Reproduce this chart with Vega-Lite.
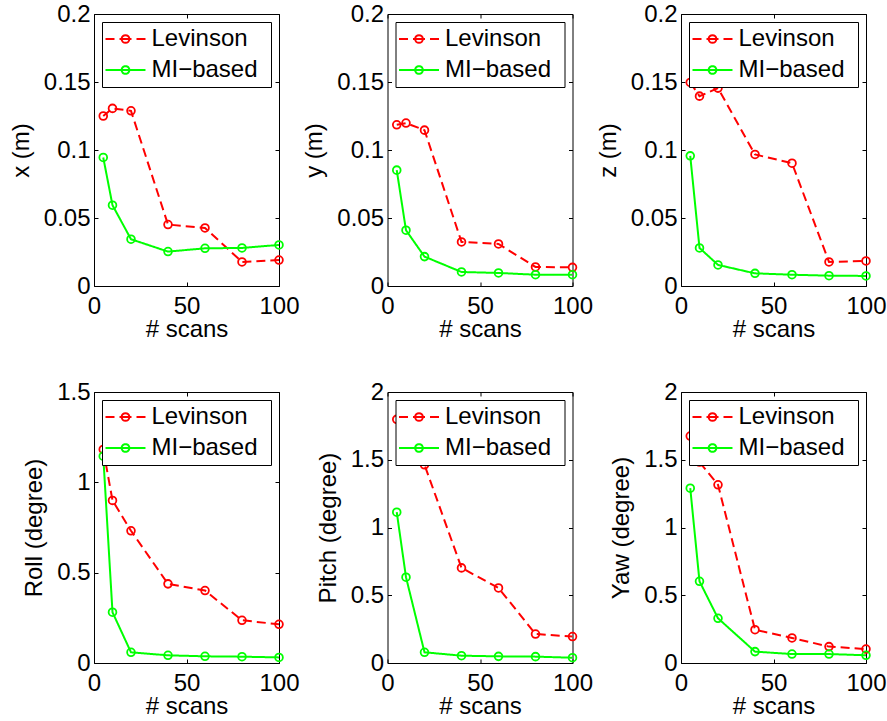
{
  "$schema": "https://vega.github.io/schema/vega-lite/v6.json",
  "background": "white",
  "padding": {"left": 8, "top": 1, "right": 5, "bottom": 5},
  "config": {
    "font": "Liberation Sans",
    "view": {"stroke": "black", "strokeWidth": 1},
    "axis": {"labelFontSize": 24, "titleFontSize": 24, "titleFontWeight": "normal", "labelColor": "black", "titleColor": "black", "tickColor": "black", "tickSize": -4, "tickWidth": 1, "domain": false, "grid": false, "labelFlush": false, "labelOverlap": false, "labelBound": false},
    "axisX": {"labelPadding": 12, "titlePadding": -1},
    "axisY": {"labelPadding": 8, "titlePadding": 10},
    "legend": {"orient": "top-right", "offset": 8, "padding": 5, "fillColor": "white", "strokeColor": "black", "labelFontSize": 24, "labelColor": "black", "symbolType": "M-2.18,0M-1.818,0H-0.364M-0.364,0H0.364M1.818,0H0.364M0.35,0A0.35,0.35 0 0 1 0,0.35M0,0.35A0.35,0.35 0 0 1 -0.35,0M-0.35,0A0.35,0.35 0 0 1 0,-0.35M0,-0.35A0.35,0.35 0 0 1 0.35,0M12.4,0", "symbolSize": 484, "symbolStrokeWidth": 2, "symbolOffset": 6.5, "labelOffset": 14, "rowPadding": 7, "symbolFillColor": "transparent"}
  },
  "datasets": {
    "err": [
      {"p": "x", "m": "Levinson", "n": 5, "v": 0.125}, {"p": "x", "m": "Levinson", "n": 10, "v": 0.1306}, {"p": "x", "m": "Levinson", "n": 20, "v": 0.1288}, {"p": "x", "m": "Levinson", "n": 40, "v": 0.0452}, {"p": "x", "m": "Levinson", "n": 60, "v": 0.0427}, {"p": "x", "m": "Levinson", "n": 80, "v": 0.0177}, {"p": "x", "m": "Levinson", "n": 100, "v": 0.0191},
      {"p": "x", "m": "MI−based", "n": 5, "v": 0.0945}, {"p": "x", "m": "MI−based", "n": 10, "v": 0.0594}, {"p": "x", "m": "MI−based", "n": 20, "v": 0.0344}, {"p": "x", "m": "MI−based", "n": 40, "v": 0.0253}, {"p": "x", "m": "MI−based", "n": 60, "v": 0.0277}, {"p": "x", "m": "MI−based", "n": 80, "v": 0.028}, {"p": "x", "m": "MI−based", "n": 100, "v": 0.0302},
      {"p": "y", "m": "Levinson", "n": 5, "v": 0.1185}, {"p": "y", "m": "Levinson", "n": 10, "v": 0.1198}, {"p": "y", "m": "Levinson", "n": 20, "v": 0.1146}, {"p": "y", "m": "Levinson", "n": 40, "v": 0.0324}, {"p": "y", "m": "Levinson", "n": 60, "v": 0.0309}, {"p": "y", "m": "Levinson", "n": 80, "v": 0.014}, {"p": "y", "m": "Levinson", "n": 100, "v": 0.0137},
      {"p": "y", "m": "MI−based", "n": 5, "v": 0.0852}, {"p": "y", "m": "MI−based", "n": 10, "v": 0.041}, {"p": "y", "m": "MI−based", "n": 20, "v": 0.0216}, {"p": "y", "m": "MI−based", "n": 40, "v": 0.0103}, {"p": "y", "m": "MI−based", "n": 60, "v": 0.0096}, {"p": "y", "m": "MI−based", "n": 80, "v": 0.0083}, {"p": "y", "m": "MI−based", "n": 100, "v": 0.0083},
      {"p": "z", "m": "Levinson", "n": 5, "v": 0.1497}, {"p": "z", "m": "Levinson", "n": 10, "v": 0.1396}, {"p": "z", "m": "Levinson", "n": 20, "v": 0.1455}, {"p": "z", "m": "Levinson", "n": 40, "v": 0.0967}, {"p": "z", "m": "Levinson", "n": 60, "v": 0.0903}, {"p": "z", "m": "Levinson", "n": 80, "v": 0.0177}, {"p": "z", "m": "Levinson", "n": 100, "v": 0.0184},
      {"p": "z", "m": "MI−based", "n": 5, "v": 0.0957}, {"p": "z", "m": "MI−based", "n": 10, "v": 0.028}, {"p": "z", "m": "MI−based", "n": 20, "v": 0.0155}, {"p": "z", "m": "MI−based", "n": 40, "v": 0.0093}, {"p": "z", "m": "MI−based", "n": 60, "v": 0.0083}, {"p": "z", "m": "MI−based", "n": 80, "v": 0.0076}, {"p": "z", "m": "MI−based", "n": 100, "v": 0.0074},
      {"p": "roll", "m": "Levinson", "n": 5, "v": 1.182}, {"p": "roll", "m": "Levinson", "n": 10, "v": 0.9}, {"p": "roll", "m": "Levinson", "n": 20, "v": 0.7316}, {"p": "roll", "m": "Levinson", "n": 40, "v": 0.438}, {"p": "roll", "m": "Levinson", "n": 60, "v": 0.401}, {"p": "roll", "m": "Levinson", "n": 80, "v": 0.2365}, {"p": "roll", "m": "Levinson", "n": 100, "v": 0.214},
      {"p": "roll", "m": "MI−based", "n": 5, "v": 1.145}, {"p": "roll", "m": "MI−based", "n": 10, "v": 0.281}, {"p": "roll", "m": "MI−based", "n": 20, "v": 0.059}, {"p": "roll", "m": "MI−based", "n": 40, "v": 0.0425}, {"p": "roll", "m": "MI−based", "n": 60, "v": 0.037}, {"p": "roll", "m": "MI−based", "n": 80, "v": 0.035}, {"p": "roll", "m": "MI−based", "n": 100, "v": 0.031},
      {"p": "pitch", "m": "Levinson", "n": 5, "v": 1.798}, {"p": "pitch", "m": "Levinson", "n": 10, "v": 1.62}, {"p": "pitch", "m": "Levinson", "n": 20, "v": 1.463}, {"p": "pitch", "m": "Levinson", "n": 40, "v": 0.702}, {"p": "pitch", "m": "Levinson", "n": 60, "v": 0.554}, {"p": "pitch", "m": "Levinson", "n": 80, "v": 0.214}, {"p": "pitch", "m": "Levinson", "n": 100, "v": 0.195},
      {"p": "pitch", "m": "MI−based", "n": 5, "v": 1.113}, {"p": "pitch", "m": "MI−based", "n": 10, "v": 0.633}, {"p": "pitch", "m": "MI−based", "n": 20, "v": 0.079}, {"p": "pitch", "m": "MI−based", "n": 40, "v": 0.054}, {"p": "pitch", "m": "MI−based", "n": 60, "v": 0.049}, {"p": "pitch", "m": "MI−based", "n": 80, "v": 0.047}, {"p": "pitch", "m": "MI−based", "n": 100, "v": 0.039},
      {"p": "yaw", "m": "Levinson", "n": 5, "v": 1.675}, {"p": "yaw", "m": "Levinson", "n": 10, "v": 1.483}, {"p": "yaw", "m": "Levinson", "n": 20, "v": 1.315}, {"p": "yaw", "m": "Levinson", "n": 40, "v": 0.246}, {"p": "yaw", "m": "Levinson", "n": 60, "v": 0.185}, {"p": "yaw", "m": "Levinson", "n": 80, "v": 0.121}, {"p": "yaw", "m": "Levinson", "n": 100, "v": 0.103},
      {"p": "yaw", "m": "MI−based", "n": 5, "v": 1.29}, {"p": "yaw", "m": "MI−based", "n": 10, "v": 0.603}, {"p": "yaw", "m": "MI−based", "n": 20, "v": 0.33}, {"p": "yaw", "m": "MI−based", "n": 40, "v": 0.084}, {"p": "yaw", "m": "MI−based", "n": 60, "v": 0.066}, {"p": "yaw", "m": "MI−based", "n": 80, "v": 0.066}, {"p": "yaw", "m": "MI−based", "n": 100, "v": 0.057}
    ]
  },
  "columns": 3,
  "spacing": {"row": 106, "column": 108.5},
  "bounds": "flush",
  "resolve": {"scale": {"color": "independent", "strokeDash": "independent"}, "legend": {"color": "independent", "strokeDash": "independent"}},
  "concat": [
    {
      "width": 185, "height": 272, "data": {"name": "err"}, "transform": [{"filter": "datum.p === 'x'"}],
      "layer": [
        {"mark": {"type": "line", "strokeWidth": 2}, "encoding": {
          "x": {"field": "n", "type": "quantitative", "scale": {"domain": [0, 100]}, "axis": {"orient": "bottom", "values": [0, 50, 100], "title": "# scans"}},
          "y": {"field": "v", "type": "quantitative", "scale": {"domain": [0, 0.2]}, "axis": {"orient": "left", "values": [0, 0.05, 0.1, 0.15, 0.2], "format": "~g", "title": "x (m)"}},
          "color": {"field": "m", "type": "nominal", "scale": {"domain": ["Levinson", "MI−based"], "range": ["#ff0000", "#00ff00"]}, "legend": {"title": null}},
          "strokeDash": {"field": "m", "type": "nominal", "scale": {"domain": ["Levinson", "MI−based"], "range": [[9, 5], [1, 0]]}, "legend": {"title": null}}}},
        {"mark": {"type": "point", "shape": "circle", "size": 60, "strokeWidth": 1.8, "filled": false, "opacity": 1}, "encoding": {
          "x": {"field": "n", "type": "quantitative", "scale": {"domain": [0, 100]}, "axis": null},
          "y": {"field": "v", "type": "quantitative", "scale": {"domain": [0, 0.2]}, "axis": null},
          "color": {"field": "m", "type": "nominal", "scale": {"domain": ["Levinson", "MI−based"], "range": ["#ff0000", "#00ff00"]}, "legend": {"title": null}}}},
        {"mark": {"type": "point", "opacity": 0}, "encoding": {
          "x": {"field": "n", "type": "quantitative", "scale": {"domain": [0, 100]}, "axis": {"orient": "top", "values": [0, 50, 100], "labels": false, "title": null}},
          "y": {"field": "v", "type": "quantitative", "scale": {"domain": [0, 0.2]}, "axis": {"orient": "right", "values": [0, 0.05, 0.1, 0.15, 0.2], "labels": false, "title": null}}}}
      ]
    },
    {
      "width": 185, "height": 272, "data": {"name": "err"}, "transform": [{"filter": "datum.p === 'y'"}],
      "layer": [
        {"mark": {"type": "line", "strokeWidth": 2}, "encoding": {
          "x": {"field": "n", "type": "quantitative", "scale": {"domain": [0, 100]}, "axis": {"orient": "bottom", "values": [0, 50, 100], "title": "# scans"}},
          "y": {"field": "v", "type": "quantitative", "scale": {"domain": [0, 0.2]}, "axis": {"orient": "left", "values": [0, 0.05, 0.1, 0.15, 0.2], "format": "~g", "title": "y (m)"}},
          "color": {"field": "m", "type": "nominal", "scale": {"domain": ["Levinson", "MI−based"], "range": ["#ff0000", "#00ff00"]}, "legend": {"title": null}},
          "strokeDash": {"field": "m", "type": "nominal", "scale": {"domain": ["Levinson", "MI−based"], "range": [[9, 5], [1, 0]]}, "legend": {"title": null}}}},
        {"mark": {"type": "point", "shape": "circle", "size": 60, "strokeWidth": 1.8, "filled": false, "opacity": 1}, "encoding": {
          "x": {"field": "n", "type": "quantitative", "scale": {"domain": [0, 100]}, "axis": null},
          "y": {"field": "v", "type": "quantitative", "scale": {"domain": [0, 0.2]}, "axis": null},
          "color": {"field": "m", "type": "nominal", "scale": {"domain": ["Levinson", "MI−based"], "range": ["#ff0000", "#00ff00"]}, "legend": {"title": null}}}},
        {"mark": {"type": "point", "opacity": 0}, "encoding": {
          "x": {"field": "n", "type": "quantitative", "scale": {"domain": [0, 100]}, "axis": {"orient": "top", "values": [0, 50, 100], "labels": false, "title": null}},
          "y": {"field": "v", "type": "quantitative", "scale": {"domain": [0, 0.2]}, "axis": {"orient": "right", "values": [0, 0.05, 0.1, 0.15, 0.2], "labels": false, "title": null}}}}
      ]
    },
    {
      "width": 185, "height": 272, "data": {"name": "err"}, "transform": [{"filter": "datum.p === 'z'"}],
      "layer": [
        {"mark": {"type": "line", "strokeWidth": 2}, "encoding": {
          "x": {"field": "n", "type": "quantitative", "scale": {"domain": [0, 100]}, "axis": {"orient": "bottom", "values": [0, 50, 100], "title": "# scans"}},
          "y": {"field": "v", "type": "quantitative", "scale": {"domain": [0, 0.2]}, "axis": {"orient": "left", "values": [0, 0.05, 0.1, 0.15, 0.2], "format": "~g", "title": "z (m)"}},
          "color": {"field": "m", "type": "nominal", "scale": {"domain": ["Levinson", "MI−based"], "range": ["#ff0000", "#00ff00"]}, "legend": {"title": null}},
          "strokeDash": {"field": "m", "type": "nominal", "scale": {"domain": ["Levinson", "MI−based"], "range": [[9, 5], [1, 0]]}, "legend": {"title": null}}}},
        {"mark": {"type": "point", "shape": "circle", "size": 60, "strokeWidth": 1.8, "filled": false, "opacity": 1}, "encoding": {
          "x": {"field": "n", "type": "quantitative", "scale": {"domain": [0, 100]}, "axis": null},
          "y": {"field": "v", "type": "quantitative", "scale": {"domain": [0, 0.2]}, "axis": null},
          "color": {"field": "m", "type": "nominal", "scale": {"domain": ["Levinson", "MI−based"], "range": ["#ff0000", "#00ff00"]}, "legend": {"title": null}}}},
        {"mark": {"type": "point", "opacity": 0}, "encoding": {
          "x": {"field": "n", "type": "quantitative", "scale": {"domain": [0, 100]}, "axis": {"orient": "top", "values": [0, 50, 100], "labels": false, "title": null}},
          "y": {"field": "v", "type": "quantitative", "scale": {"domain": [0, 0.2]}, "axis": {"orient": "right", "values": [0, 0.05, 0.1, 0.15, 0.2], "labels": false, "title": null}}}}
      ]
    },
    {
      "width": 185, "height": 271, "data": {"name": "err"}, "transform": [{"filter": "datum.p === 'roll'"}],
      "layer": [
        {"mark": {"type": "line", "strokeWidth": 2}, "encoding": {
          "x": {"field": "n", "type": "quantitative", "scale": {"domain": [0, 100]}, "axis": {"orient": "bottom", "values": [0, 50, 100], "title": "# scans"}},
          "y": {"field": "v", "type": "quantitative", "scale": {"domain": [0, 1.5]}, "axis": {"orient": "left", "values": [0, 0.5, 1, 1.5], "format": "~g", "title": "Roll (degree)"}},
          "color": {"field": "m", "type": "nominal", "scale": {"domain": ["Levinson", "MI−based"], "range": ["#ff0000", "#00ff00"]}, "legend": {"title": null}},
          "strokeDash": {"field": "m", "type": "nominal", "scale": {"domain": ["Levinson", "MI−based"], "range": [[9, 5], [1, 0]]}, "legend": {"title": null}}}},
        {"mark": {"type": "point", "shape": "circle", "size": 60, "strokeWidth": 1.8, "filled": false, "opacity": 1}, "encoding": {
          "x": {"field": "n", "type": "quantitative", "scale": {"domain": [0, 100]}, "axis": null},
          "y": {"field": "v", "type": "quantitative", "scale": {"domain": [0, 1.5]}, "axis": null},
          "color": {"field": "m", "type": "nominal", "scale": {"domain": ["Levinson", "MI−based"], "range": ["#ff0000", "#00ff00"]}, "legend": {"title": null}}}},
        {"mark": {"type": "point", "opacity": 0}, "encoding": {
          "x": {"field": "n", "type": "quantitative", "scale": {"domain": [0, 100]}, "axis": {"orient": "top", "values": [0, 50, 100], "labels": false, "title": null}},
          "y": {"field": "v", "type": "quantitative", "scale": {"domain": [0, 1.5]}, "axis": {"orient": "right", "values": [0, 0.5, 1, 1.5], "labels": false, "title": null}}}}
      ]
    },
    {
      "width": 185, "height": 271, "data": {"name": "err"}, "transform": [{"filter": "datum.p === 'pitch'"}],
      "layer": [
        {"mark": {"type": "line", "strokeWidth": 2}, "encoding": {
          "x": {"field": "n", "type": "quantitative", "scale": {"domain": [0, 100]}, "axis": {"orient": "bottom", "values": [0, 50, 100], "title": "# scans"}},
          "y": {"field": "v", "type": "quantitative", "scale": {"domain": [0, 2]}, "axis": {"orient": "left", "values": [0, 0.5, 1, 1.5, 2], "format": "~g", "title": "Pitch (degree)"}},
          "color": {"field": "m", "type": "nominal", "scale": {"domain": ["Levinson", "MI−based"], "range": ["#ff0000", "#00ff00"]}, "legend": {"title": null}},
          "strokeDash": {"field": "m", "type": "nominal", "scale": {"domain": ["Levinson", "MI−based"], "range": [[9, 5], [1, 0]]}, "legend": {"title": null}}}},
        {"mark": {"type": "point", "shape": "circle", "size": 60, "strokeWidth": 1.8, "filled": false, "opacity": 1}, "encoding": {
          "x": {"field": "n", "type": "quantitative", "scale": {"domain": [0, 100]}, "axis": null},
          "y": {"field": "v", "type": "quantitative", "scale": {"domain": [0, 2]}, "axis": null},
          "color": {"field": "m", "type": "nominal", "scale": {"domain": ["Levinson", "MI−based"], "range": ["#ff0000", "#00ff00"]}, "legend": {"title": null}}}},
        {"mark": {"type": "point", "opacity": 0}, "encoding": {
          "x": {"field": "n", "type": "quantitative", "scale": {"domain": [0, 100]}, "axis": {"orient": "top", "values": [0, 50, 100], "labels": false, "title": null}},
          "y": {"field": "v", "type": "quantitative", "scale": {"domain": [0, 2]}, "axis": {"orient": "right", "values": [0, 0.5, 1, 1.5, 2], "labels": false, "title": null}}}}
      ]
    },
    {
      "width": 185, "height": 271, "data": {"name": "err"}, "transform": [{"filter": "datum.p === 'yaw'"}],
      "layer": [
        {"mark": {"type": "line", "strokeWidth": 2}, "encoding": {
          "x": {"field": "n", "type": "quantitative", "scale": {"domain": [0, 100]}, "axis": {"orient": "bottom", "values": [0, 50, 100], "title": "# scans"}},
          "y": {"field": "v", "type": "quantitative", "scale": {"domain": [0, 2]}, "axis": {"orient": "left", "values": [0, 0.5, 1, 1.5, 2], "format": "~g", "title": "Yaw (degree)"}},
          "color": {"field": "m", "type": "nominal", "scale": {"domain": ["Levinson", "MI−based"], "range": ["#ff0000", "#00ff00"]}, "legend": {"title": null}},
          "strokeDash": {"field": "m", "type": "nominal", "scale": {"domain": ["Levinson", "MI−based"], "range": [[9, 5], [1, 0]]}, "legend": {"title": null}}}},
        {"mark": {"type": "point", "shape": "circle", "size": 60, "strokeWidth": 1.8, "filled": false, "opacity": 1}, "encoding": {
          "x": {"field": "n", "type": "quantitative", "scale": {"domain": [0, 100]}, "axis": null},
          "y": {"field": "v", "type": "quantitative", "scale": {"domain": [0, 2]}, "axis": null},
          "color": {"field": "m", "type": "nominal", "scale": {"domain": ["Levinson", "MI−based"], "range": ["#ff0000", "#00ff00"]}, "legend": {"title": null}}}},
        {"mark": {"type": "point", "opacity": 0}, "encoding": {
          "x": {"field": "n", "type": "quantitative", "scale": {"domain": [0, 100]}, "axis": {"orient": "top", "values": [0, 50, 100], "labels": false, "title": null}},
          "y": {"field": "v", "type": "quantitative", "scale": {"domain": [0, 2]}, "axis": {"orient": "right", "values": [0, 0.5, 1, 1.5, 2], "labels": false, "title": null}}}}
      ]
    }
  ]
}
